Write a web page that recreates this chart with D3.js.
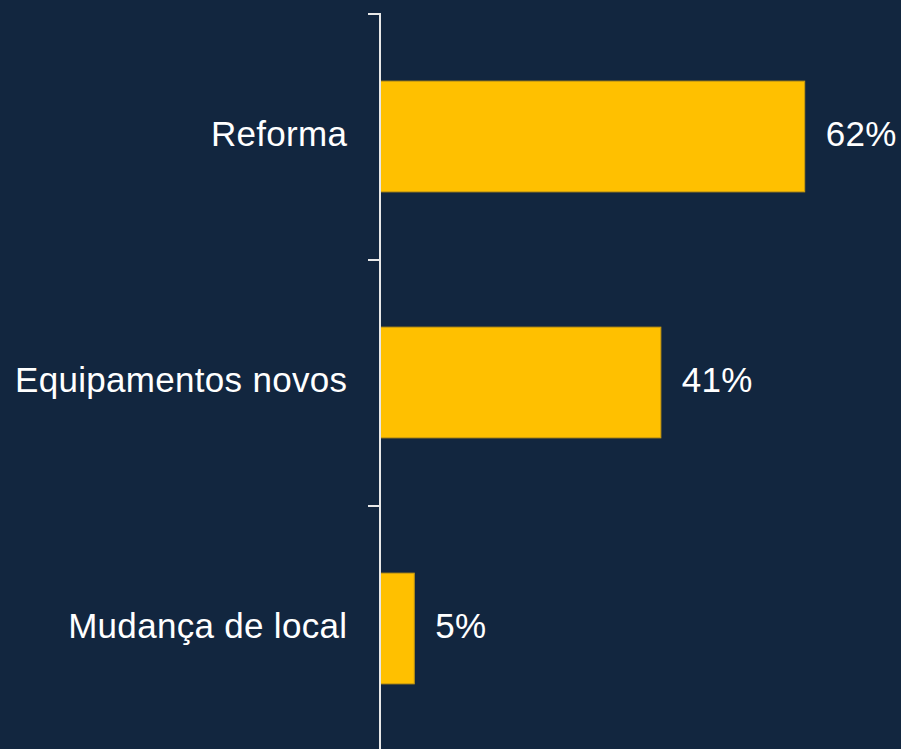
<!DOCTYPE html>
<html>
<head>
<meta charset="utf-8">
<script src="https://cdn.jsdelivr.net/npm/d3@7"></script>
<style>
	html, body { margin: 0; padding: 0; background: #12263f; }
	svg { display: block; }
</style>
</head>
<body>
<div id="chart"></div>
<script>
var categories = ["Reforma", "Equipamentos novos", "Mudança de local"];
var values = [62, 41, 5];
var valueLabels = ["62%", "41%", "5%"];

var width = 901,
	height = 749;
var axisX = 380;
var fontSize = 35;
var letterSpacing = 0.3;
var labelGap = 21;

var svg = d3.select("#chart").append("svg")
	.attr("width", width)
	.attr("height", height);

svg.append("rect")
	.attr("width", width)
	.attr("height", height)
	.attr("fill", "#12263f");

var y = d3.scaleBand()
	.domain(categories)
	.range([14, 752])
	.paddingInner(0.55)
	.paddingOuter(0.275);

var x = d3.scaleLinear()
	.domain([0, 100])
	.range([axisX, axisX + 685]);

// bars
svg.selectAll("rect.bar")
	.data(values)
	.enter().append("rect")
	.attr("class", "bar")
	.attr("x", x(0))
	.attr("y", function(d, i) { return y(categories[i]) - 0.5; })
	.attr("width", function(d) { return x(d) - x(0); })
	.attr("height", y.bandwidth())
	.attr("fill", "#ffc000")
	.attr("stroke", "#c99a10")
	.attr("stroke-width", 1);

// value labels
svg.selectAll("text.value")
	.data(values)
	.enter().append("text")
	.attr("class", "value")
	.attr("x", function(d) { return x(d) + labelGap; })
	.attr("y", function(d, i) { return y(categories[i]) + y.bandwidth() / 2; })
	.attr("dy", "0.26em")
	.attr("fill", "#ffffff")
	.style("font-family", "Arial, 'Liberation Sans', sans-serif")
	.style("font-size", fontSize + "px")
	.style("letter-spacing", letterSpacing + "px")
	.text(function(d, i) { return valueLabels[i]; });

// category axis: line + ticks at band boundaries
var step = y.step();
var tickYs = [];
for (var i = 0; i <= categories.length; i++) {
	tickYs.push(y.range()[0] + i * step);
}

svg.append("line")
	.attr("x1", axisX)
	.attr("x2", axisX)
	.attr("y1", y.range()[0] - 1)
	.attr("y2", height)
	.attr("stroke", "#e8e8e8")
	.attr("stroke-width", 2);

svg.selectAll("line.tick")
	.data(tickYs)
	.enter().append("line")
	.attr("class", "tick")
	.attr("x1", axisX - 12)
	.attr("x2", axisX)
	.attr("y1", function(d) { return d; })
	.attr("y2", function(d) { return d; })
	.attr("stroke", "#e8e8e8")
	.attr("stroke-width", 2);

svg.selectAll("text.cat")
	.data(categories)
	.enter().append("text")
	.attr("class", "cat")
	.attr("x", axisX - 33 + letterSpacing)
	.attr("y", function(d) { return y(d) + y.bandwidth() / 2; })
	.attr("dy", "0.26em")
	.attr("text-anchor", "end")
	.attr("fill", "#ffffff")
	.style("font-family", "Arial, 'Liberation Sans', sans-serif")
	.style("font-size", fontSize + "px")
	.style("letter-spacing", letterSpacing + "px")
	.text(function(d) { return d; });
</script>
</body>
</html>
